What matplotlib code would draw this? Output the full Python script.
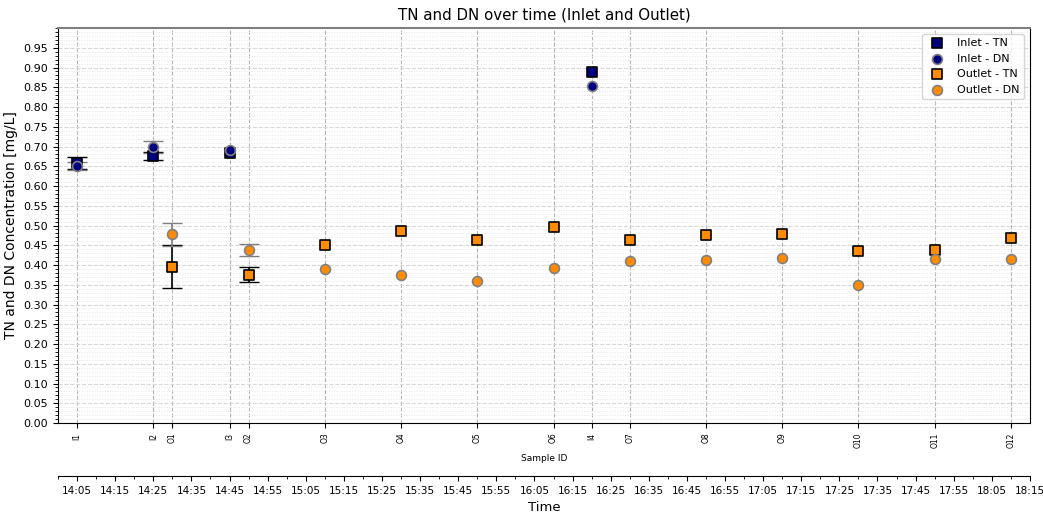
import numpy as np
import matplotlib
matplotlib.use("Agg")
import matplotlib.pyplot as plt
from matplotlib.ticker import MultipleLocator, FuncFormatter

# sample times (hh:mm) and values
inlet_ids = ["I1", "I2", "I3", "I4"]
inlet_times = ["14:05", "14:25", "14:45", "16:20"]
inlet_tn = [0.658, 0.676, 0.683, 0.888]
inlet_tn_err = [0.015, 0.010, np.nan, np.nan]
inlet_dn = [0.650, 0.698, 0.692, 0.852]
inlet_dn_err = [0.010, 0.015, np.nan, np.nan]

outlet_ids = ["O1", "O2", "O3", "O4", "O5", "O6", "O7", "O8", "O9", "O10", "O11", "O12"]
outlet_times = ["14:30", "14:50", "15:10", "15:30", "15:50", "16:10",
                "16:30", "16:50", "17:10", "17:30", "17:50", "18:10"]
outlet_tn = [0.396, 0.375, 0.451, 0.486, 0.464, 0.497, 0.464, 0.476, 0.479, 0.436, 0.439, 0.468]
outlet_tn_err = [0.054, 0.019] + [np.nan] * 10
outlet_dn = [0.478, 0.439, 0.390, 0.374, 0.359, 0.393, 0.409, 0.413, 0.417, 0.350, 0.416, 0.415]
outlet_dn_err = [0.029, 0.015] + [np.nan] * 10


def to_min(s):
    h, m = s.split(":")
    return int(h) * 60 + int(m)


def fmt_time(x, pos):
    x = int(round(x))
    return "%02d:%02d" % (x // 60, x % 60)


t_in = np.array([to_min(s) for s in inlet_times])
t_out = np.array([to_min(s) for s in outlet_times])

fig = plt.figure(figsize=(10.43, 5.15), dpi=100)
ax = fig.add_axes([0.0556, 0.1786, 0.9319, 0.767])

cap = 7
ax.errorbar(t_in, inlet_tn, yerr=inlet_tn_err, fmt="none", ecolor="black", capsize=cap, lw=1.2, zorder=2)
ax.errorbar(t_in, inlet_dn, yerr=inlet_dn_err, fmt="none", ecolor="gray", capsize=cap, lw=1.2, zorder=2)
ax.errorbar(t_out, outlet_tn, yerr=outlet_tn_err, fmt="none", ecolor="black", capsize=cap, lw=1.2, zorder=2)
ax.errorbar(t_out, outlet_dn, yerr=outlet_dn_err, fmt="none", ecolor="gray", capsize=cap, lw=1.2, zorder=2)

ax.scatter(t_in, inlet_tn, marker="s", s=50, color="#000080", edgecolor="black", lw=1.2, label="Inlet - TN", zorder=3)
ax.scatter(t_in, inlet_dn, marker="o", s=50, color="#000080", edgecolor="gray", lw=1.2, label="Inlet - DN", zorder=4)
ax.scatter(t_out, outlet_tn, marker="s", s=50, color="darkorange", edgecolor="black", lw=1.2, label="Outlet - TN", zorder=3)
ax.scatter(t_out, outlet_dn, marker="o", s=50, color="darkorange", edgecolor="gray", lw=1.2, label="Outlet - DN", zorder=4)

ax.set_xlim(to_min("14:00"), to_min("18:15"))
ax.set_ylim(0, 1.0)
ax.yaxis.set_minor_locator(MultipleLocator(0.01))
ax.set_yticks(np.arange(0, 0.96, 0.05))
ax.yaxis.set_major_formatter(FuncFormatter(lambda v, p: "%.2f" % v))
ax.tick_params(axis="y", labelsize=8)

all_t = list(t_in) + list(t_out)
all_ids = inlet_ids + outlet_ids
ax.set_xticks(all_t)
ax.set_xticklabels(all_ids, rotation=90, fontsize=5.5)
ax.set_xlabel("Sample ID", fontsize=6.5)

ax.grid(True, which="major", axis="x", color="#b5b5b5", linestyle="--", lw=0.8)
ax.grid(True, which="major", axis="y", color="#d8d8d8", linestyle="--", lw=0.8)
ax.grid(True, which="minor", axis="y", color="#e6e6e6", linestyle=":", lw=0.7)
ax.set_axisbelow(True)
ax.spines["top"].set_color("gray")
ax.spines["top"].set_linewidth(1.5)

ax.set_ylabel("TN and DN Concentration [mg/L]", fontsize=10)
ax.set_title("TN and DN over time (Inlet and Outlet)", fontsize=10.8)
ax.legend(loc="upper right", fontsize=8)

# time axis below
ax2 = ax.twiny()
ax2.set_xlim(ax.get_xlim())
ax2.xaxis.set_ticks_position("bottom")
ax2.xaxis.set_label_position("bottom")
ax2.spines["bottom"].set_position(("outward", 38))
for s in ["top", "left", "right"]:
    ax2.spines[s].set_visible(False)
ax2.set_xticks(np.arange(to_min("14:05"), to_min("18:15") + 1, 10))
ax2.xaxis.set_minor_locator(MultipleLocator(5))
ax2.xaxis.set_major_formatter(FuncFormatter(fmt_time))
ax2.tick_params(axis="x", labelsize=7.5)
ax2.set_xlabel("Time", fontsize=9.5)

fig.savefig("out.png", dpi=100)
